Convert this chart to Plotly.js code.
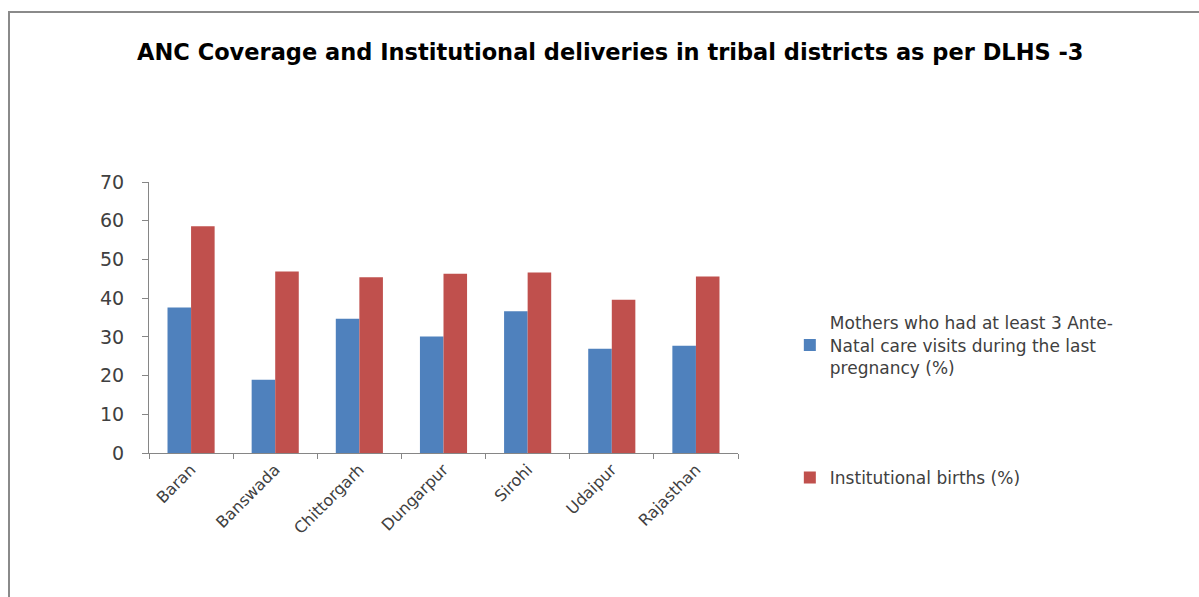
<!DOCTYPE html>
<html>
<head>
<meta charset="utf-8">
<script src="https://cdn.plot.ly/plotly-3.0.1.min.js"></script>
<style>
  html, body { margin: 0; padding: 0; background: #fff; }
  #wrap { position: relative; width: 1199px; height: 597px; overflow: hidden; }
  #frame { position: absolute; left: 8px; top: 11px; width: 1300px; height: 700px;
           border-top: 2px solid #8a8a8a; border-left: 2px solid #8a8a8a; pointer-events: none; }
  #chart { position: absolute; left: 0; top: 0; width: 1199px; height: 597px; }
</style>
</head>
<body>
<div id="wrap">
  <div id="chart"></div>
  <div id="frame"></div>
</div>
<script>
const districts = ["Baran", "Banswada", "Chittorgarh", "Dungarpur", "Sirohi", "Udaipur", "Rajasthan"];
const ancVisits = [37.6, 18.9, 34.7, 30.1, 36.6, 26.9, 27.7];
const institutionalBirths = [58.6, 46.9, 45.4, 46.3, 46.6, 39.6, 45.6];
const yTicks = [0, 10, 20, 30, 40, 50, 60, 70];
const seriesNames = [
  "Mothers who had at least 3 Ante-<br>Natal care visits during the last<br>pregnancy (%)",
  "Institutional births (%)"
];

const font = "'DejaVu Sans', Verdana, sans-serif";
const textColor = "#404040";

const data = [
  { type: "bar", x: districts, y: ancVisits, name: seriesNames[0],
    marker: { color: "#4F81BD" }, legend: "legend" },
  { type: "bar", x: districts, y: institutionalBirths, name: seriesNames[1],
    marker: { color: "#C0504D" }, legend: "legend2" }
];

const layout = {
  width: 1199, height: 597,
  margin: { l: 149, r: 461, t: 182, b: 144 },
  paper_bgcolor: "#ffffff", plot_bgcolor: "#ffffff",
  font: { family: font, color: textColor },
  barmode: "group", bargap: 0.44, bargroupgap: 0,
  title: {
    text: "<b>ANC Coverage and Institutional deliveries in tribal districts as per DLHS -3</b>",
    font: { family: font, size: 22.5, color: "#000000" },
    x: 0.509, xref: "container", xanchor: "center",
    y: 1 - 52 / 597, yref: "container", yanchor: "middle"
  },
  xaxis: {
    type: "category", tickangle: -45, tickson: "boundaries",
    ticks: "outside", ticklen: 5, tickcolor: "#868686",
    showline: true, linecolor: "#868686", linewidth: 1,
    showgrid: false, zeroline: false,
    tickfont: { family: font, size: 16, color: textColor }
  },
  yaxis: {
    range: [0, 70], tickvals: yTicks, ticktext: yTicks.map(String),
    ticks: "outside", ticklen: 6, tickcolor: "#868686",
    showline: true, linecolor: "#868686", linewidth: 1,
    showgrid: false, zeroline: false, ticklabelstandoff: 14,
    tickfont: { family: font, size: 19, color: textColor }
  },
  showlegend: true,
  legend: {
    x: 1.088, xanchor: "left", y: 0.545, yanchor: "top",
    font: { family: font, size: 17, color: textColor },
    bgcolor: "rgba(0,0,0,0)"
  },
  legend2: {
    x: 1.088, xanchor: "left", y: -0.092, yanchor: "middle",
    font: { family: font, size: 17, color: textColor },
    bgcolor: "rgba(0,0,0,0)"
  }
};

Plotly.newPlot("chart", data, layout, { displayModeBar: false, staticPlot: true });
</script>
</body>
</html>
